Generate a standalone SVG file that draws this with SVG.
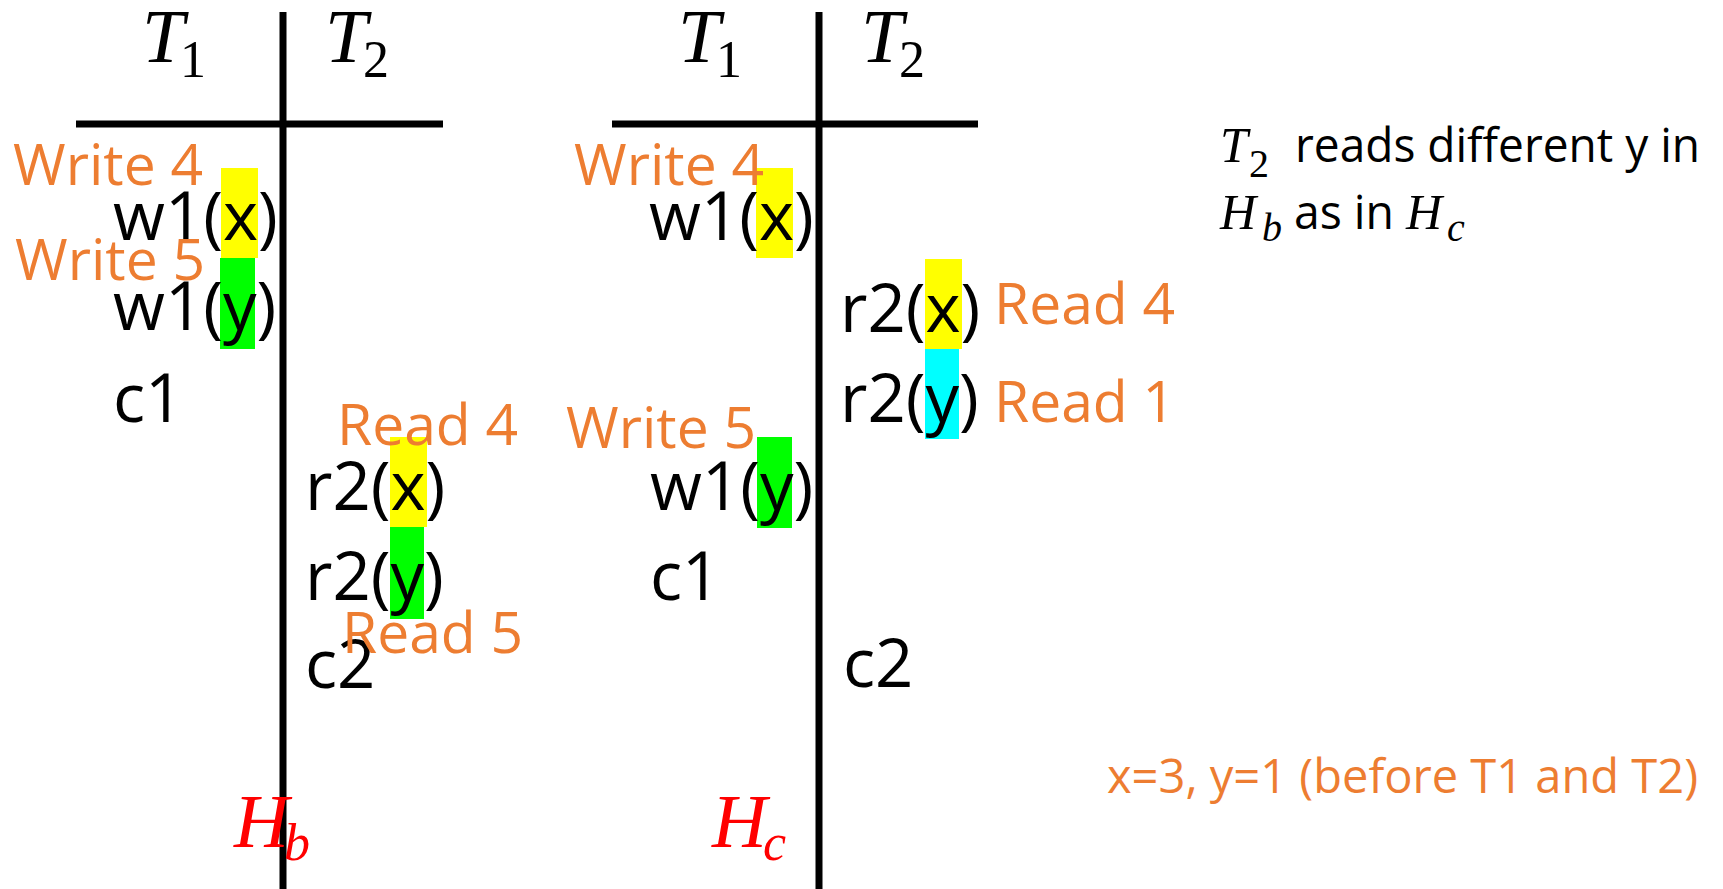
<svg xmlns="http://www.w3.org/2000/svg" width="1723" height="889" viewBox="0 0 1723 889">
<style>
.ln{stroke:#000;stroke-width:7;fill:none}
.math{font-family:"Liberation Serif","DejaVu Serif",serif;font-style:italic;fill:#000}
.up{font-style:normal}
.op{font-family:"Open Sans","Noto Sans",sans-serif;font-size:67px;fill:#000}
.lbl{font-family:"Open Sans","Noto Sans",sans-serif;font-size:57px;fill:#ED7D31}
.note{font-family:"Open Sans","Noto Sans",sans-serif;font-size:47px;fill:#000}
.red{fill:#FF0000}
.yl{fill:#FFFF00}.gr{fill:#00FF00}.cy{fill:#00FFFF}
</style>
<g id="connectors">
<line class="ln" x1="283" y1="12" x2="283" y2="889"/>
<line class="ln" x1="76" y1="124" x2="443" y2="124"/>
<line class="ln" x1="819" y1="12" x2="819" y2="889"/>
<line class="ln" x1="612" y1="124" x2="978" y2="124"/>
</g>
<g id="hb-header">
<text class="math" x="142" y="62" font-size="76">T</text><text class="math up" x="180" y="77" font-size="52">1</text>
<text class="math" x="325" y="62" font-size="76">T</text><text class="math up" x="363" y="77" font-size="52">2</text>
</g>
<g id="hc-header">
<text class="math" x="678" y="62" font-size="76">T</text><text class="math up" x="716" y="77" font-size="52">1</text>
<text class="math" x="861" y="62" font-size="76">T</text><text class="math up" x="899" y="77" font-size="52">2</text>
</g>
<g id="hb-w1x">
<rect class="yl" x="221" y="168" width="37" height="90"/>
<text class="op" x="113" y="240">w1(x)</text>
<text class="lbl" x="13" y="185">Write 4</text>
</g>
<g id="hb-w1y">
<rect class="gr" x="220" y="258" width="35" height="91"/>
<text class="op" x="113" y="330">w1(y)</text>
<text class="lbl" x="15" y="280">Write 5</text>
</g>
<g id="hb-c1"><text class="op" x="113" y="422">c1</text></g>
<g id="hb-r2x">
<rect class="yl" x="390" y="437" width="37" height="90"/>
<text class="op" x="305" y="510">r2(x)</text>
<text class="lbl" x="337" y="445">Read 4</text>
</g>
<g id="hb-r2y">
<rect class="gr" x="390" y="527" width="34" height="92"/>
<text class="op" x="305" y="600">r2(y)</text>
</g>
<g id="hb-c2"><text class="op" x="305" y="688">c2</text></g>
<g id="hb-read5"><text class="lbl" x="342" y="653">Read 5</text></g>
<g id="hb-label"><text class="math red" x="234" y="847" font-size="76">H</text><text class="math red" x="284" y="860" font-size="52">b</text></g>

<g id="hc-w1x">
<rect class="yl" x="756" y="168" width="37" height="90"/>
<text class="op" x="649" y="240">w1(x)</text>
<text class="lbl" x="574" y="185">Write 4</text>
</g>
<g id="hc-r2x">
<rect class="yl" x="925" y="259" width="37" height="90"/>
<text class="op" x="840" y="332">r2(x)</text>
<text class="lbl" x="994" y="324">Read 4</text>
</g>
<g id="hc-r2y">
<rect class="cy" x="925" y="349" width="34" height="90"/>
<text class="op" x="840" y="422">r2(y)</text>
<text class="lbl" x="994" y="422">Read 1</text>
</g>
<g id="hc-w1y">
<rect class="gr" x="757" y="437" width="35" height="91"/>
<text class="op" x="650" y="510">w1(y)</text>
<text class="lbl" x="566" y="448">Write 5</text>
</g>
<g id="hc-c1"><text class="op" x="650" y="600">c1</text></g>
<g id="hc-c2"><text class="op" x="843" y="687">c2</text></g>
<g id="hc-label"><text class="math red" x="712" y="847" font-size="76">H</text><text class="math red" x="763" y="860" font-size="52">c</text></g>

<g id="note">
<text class="math" x="1220" y="162" font-size="50">T</text><text class="math up" x="1249" y="177" font-size="40">2</text>
<text class="note" x="1295" y="162" textLength="405" lengthAdjust="spacingAndGlyphs">reads different y in</text>
<text class="math" x="1220" y="229" font-size="50">H</text><text class="math" x="1262" y="241" font-size="40">b</text>
<text class="note" x="1294" y="229" textLength="100" lengthAdjust="spacingAndGlyphs">as in</text>
<text class="math" x="1406" y="229" font-size="50">H</text><text class="math" x="1447" y="241" font-size="40">c</text>
</g>
<g id="init"><text class="lbl" x="1107" y="793" style="font-size:47px" textLength="591" lengthAdjust="spacingAndGlyphs">x=3, y=1 (before T1 and T2)</text></g>
</svg>
